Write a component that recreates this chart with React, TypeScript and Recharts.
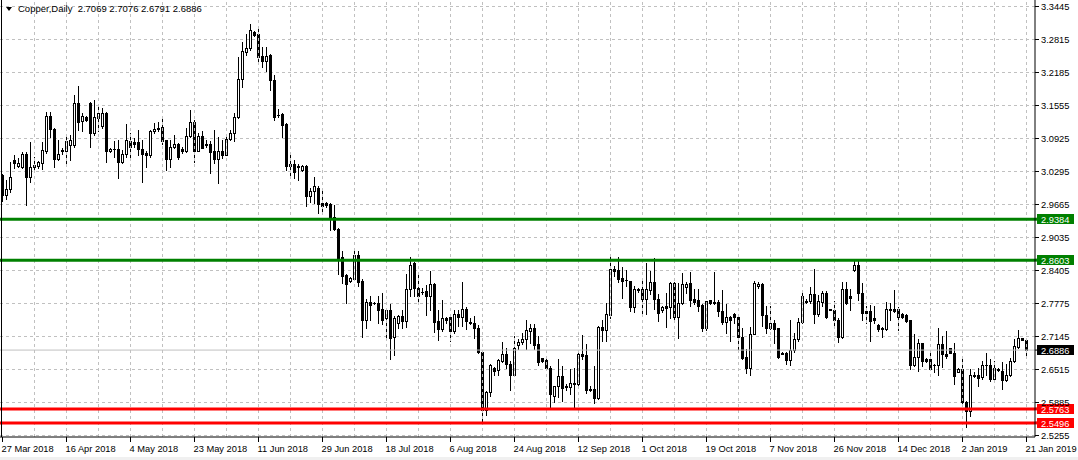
import { ComposedChart, Bar, XAxis, YAxis, CartesianGrid, ReferenceLine } from "recharts";

// daily OHLC, 27 Mar 2018 .. 21 Jan 2019 (257 bars)
const opens = [
  3.022, 2.984, 2.996, 3.051, 3.04, 3.038, 3.062, 3.019, 3.038, 3.039,
  3.044, 3.068, 3.135, 3.109, 3.052, 3.068, 3.067, 3.079, 3.08, 3.159,
  3.125, 3.132, 3.159, 3.103, 3.13, 3.115, 3.141, 3.068, 3.071, 3.072,
  3.046, 3.062, 3.086, 3.084, 3.084, 3.072, 3.063, 3.06, 3.106, 3.109,
  3.113, 3.088, 3.052, 3.075, 3.081, 3.072, 3.067, 3.096, 3.124, 3.068,
  3.096, 3.081, 3.081, 3.067, 3.052, 3.067, 3.061, 3.09, 3.102, 3.132,
  3.205, 3.257, 3.264, 3.294, 3.291, 3.249, 3.24, 3.251, 3.203, 3.137,
  3.138, 3.119, 3.043, 3.043, 3.04, 3.031, 3.04, 2.981, 2.992, 2.997,
  2.969, 2.968, 2.966, 2.941, 2.918, 2.865, 2.831, 2.82, 2.823, 2.869,
  2.82, 2.745, 2.779, 2.778, 2.777, 2.766, 2.748, 2.764, 2.712, 2.739,
  2.753, 2.744, 2.804, 2.853, 2.806, 2.799, 2.801, 2.79, 2.814, 2.744,
  2.727, 2.748, 2.75, 2.724, 2.756, 2.751, 2.767, 2.741, 2.74, 2.729,
  2.684, 2.573, 2.608, 2.654, 2.65, 2.667, 2.681, 2.662, 2.641, 2.697,
  2.703, 2.708, 2.724, 2.729, 2.699, 2.672, 2.668, 2.654, 2.6, 2.619,
  2.638, 2.62, 2.618, 2.624, 2.622, 2.68, 2.678, 2.614, 2.613, 2.597,
  2.732, 2.726, 2.754, 2.842, 2.841, 2.826, 2.822, 2.819, 2.769, 2.804,
  2.804, 2.785, 2.802, 2.818, 2.786, 2.764, 2.771, 2.769, 2.816, 2.751,
  2.778, 2.809, 2.816, 2.786, 2.783, 2.773, 2.729, 2.783, 2.779, 2.779,
  2.763, 2.741, 2.75, 2.756, 2.751, 2.713, 2.674, 2.654, 2.719, 2.81,
  2.814, 2.755, 2.729, 2.74, 2.729, 2.683, 2.683, 2.669, 2.688, 2.709,
  2.741, 2.781, 2.781, 2.794, 2.756, 2.78, 2.796, 2.766, 2.765, 2.746,
  2.713, 2.805, 2.79, 2.84, 2.851, 2.797, 2.762, 2.762, 2.748, 2.735,
  2.729, 2.728, 2.767, 2.767, 2.767, 2.756, 2.754, 2.745, 2.659, 2.675,
  2.701, 2.67, 2.67, 2.66, 2.66, 2.699, 2.681, 2.691, 2.683, 2.646,
  2.651, 2.589, 2.571, 2.641, 2.641, 2.637, 2.66, 2.659, 2.633, 2.651,
  2.648, 2.631, 2.641, 2.667, 2.694, 2.71, 2.7069,
];
const highs = [
  3.024, 3.012, 3.047, 3.06, 3.054, 3.065, 3.065, 3.085, 3.057, 3.048,
  3.084, 3.143, 3.143, 3.111, 3.089, 3.073, 3.098, 3.099, 3.175, 3.192,
  3.14, 3.134, 3.162, 3.166, 3.152, 3.15, 3.142, 3.074, 3.086, 3.089,
  3.07, 3.119, 3.103, 3.092, 3.108, 3.089, 3.067, 3.108, 3.121, 3.124,
  3.13, 3.089, 3.089, 3.098, 3.083, 3.076, 3.111, 3.146, 3.127, 3.102,
  3.105, 3.089, 3.086, 3.108, 3.095, 3.089, 3.095, 3.108, 3.14, 3.248,
  3.275, 3.292, 3.311, 3.297, 3.306, 3.267, 3.267, 3.253, 3.213, 3.147,
  3.14, 3.121, 3.063, 3.051, 3.043, 3.041, 3.041, 2.998, 3.019, 3.0,
  2.996, 2.971, 2.968, 2.965, 2.92, 2.876, 2.833, 2.828, 2.876, 2.877,
  2.823, 2.786, 2.79, 2.78, 2.79, 2.796, 2.766, 2.775, 2.752, 2.755,
  2.764, 2.833, 2.865, 2.855, 2.833, 2.806, 2.812, 2.839, 2.815, 2.765,
  2.783, 2.75, 2.753, 2.765, 2.765, 2.818, 2.769, 2.748, 2.753, 2.735,
  2.686, 2.61, 2.662, 2.655, 2.671, 2.703, 2.692, 2.667, 2.715, 2.708,
  2.721, 2.745, 2.737, 2.737, 2.715, 2.673, 2.67, 2.657, 2.62, 2.67,
  2.657, 2.622, 2.651, 2.654, 2.683, 2.716, 2.699, 2.619, 2.657, 2.734,
  2.746, 2.777, 2.868, 2.849, 2.866, 2.847, 2.84, 2.82, 2.81, 2.807,
  2.821, 2.853, 2.839, 2.864, 2.794, 2.772, 2.797, 2.818, 2.818, 2.815,
  2.834, 2.818, 2.837, 2.804, 2.804, 2.775, 2.781, 2.784, 2.837, 2.784,
  2.802, 2.775, 2.753, 2.758, 2.756, 2.73, 2.689, 2.732, 2.819, 2.818,
  2.816, 2.771, 2.771, 2.746, 2.73, 2.684, 2.684, 2.746, 2.721, 2.748,
  2.802, 2.785, 2.809, 2.843, 2.792, 2.8, 2.8, 2.767, 2.781, 2.749,
  2.818, 2.818, 2.804, 2.858, 2.858, 2.816, 2.772, 2.773, 2.772, 2.737,
  2.732, 2.779, 2.778, 2.802, 2.769, 2.758, 2.756, 2.746, 2.718, 2.708,
  2.702, 2.673, 2.686, 2.662, 2.729, 2.715, 2.724, 2.692, 2.702, 2.654,
  2.675, 2.591, 2.651, 2.645, 2.654, 2.667, 2.683, 2.67, 2.667, 2.654,
  2.665, 2.662, 2.673, 2.708, 2.726, 2.711, 2.7076,
];
const lows = [
  2.973, 2.977, 2.99, 3.035, 3.037, 3.035, 2.965, 3.009, 3.032, 3.036,
  3.033, 3.063, 3.095, 3.038, 3.051, 3.062, 3.04, 3.051, 3.076, 3.108,
  3.105, 3.125, 3.075, 3.098, 3.105, 3.112, 3.047, 3.066, 3.057, 3.016,
  3.044, 3.057, 3.054, 3.076, 3.06, 3.009, 3.038, 3.057, 3.103, 3.105,
  3.082, 3.032, 3.038, 3.073, 3.052, 3.063, 3.065, 3.095, 3.046, 3.067,
  3.073, 3.076, 3.026, 3.044, 3.006, 3.054, 3.06, 3.089, 3.086, 3.13,
  3.189, 3.251, 3.261, 3.287, 3.238, 3.229, 3.221, 3.184, 3.127, 3.133,
  3.095, 3.032, 3.019, 3.016, 3.013, 3.03, 2.963, 2.971, 2.968, 2.95,
  2.954, 2.961, 2.917, 2.917, 2.833, 2.815, 2.778, 2.818, 2.822, 2.81,
  2.713, 2.729, 2.745, 2.776, 2.74, 2.738, 2.71, 2.67, 2.678, 2.729,
  2.729, 2.731, 2.79, 2.79, 2.778, 2.795, 2.755, 2.764, 2.723, 2.706,
  2.724, 2.74, 2.705, 2.721, 2.734, 2.734, 2.727, 2.737, 2.711, 2.683,
  2.552, 2.563, 2.6, 2.641, 2.641, 2.664, 2.654, 2.611, 2.638, 2.69,
  2.699, 2.689, 2.702, 2.689, 2.659, 2.665, 2.651, 2.578, 2.589, 2.599,
  2.591, 2.612, 2.603, 2.578, 2.619, 2.67, 2.605, 2.61, 2.587, 2.595,
  2.705, 2.705, 2.749, 2.83, 2.818, 2.788, 2.81, 2.762, 2.76, 2.799,
  2.754, 2.756, 2.794, 2.767, 2.743, 2.76, 2.732, 2.748, 2.743, 2.711,
  2.775, 2.797, 2.772, 2.775, 2.762, 2.724, 2.726, 2.776, 2.776, 2.753,
  2.737, 2.72, 2.705, 2.74, 2.689, 2.67, 2.643, 2.64, 2.718, 2.807,
  2.734, 2.721, 2.727, 2.702, 2.673, 2.68, 2.662, 2.66, 2.684, 2.705,
  2.739, 2.777, 2.777, 2.74, 2.753, 2.772, 2.749, 2.764, 2.735, 2.704,
  2.711, 2.775, 2.765, 2.839, 2.784, 2.746, 2.74, 2.705, 2.739, 2.724,
  2.713, 2.726, 2.746, 2.76, 2.726, 2.749, 2.741, 2.651, 2.657, 2.648,
  2.657, 2.664, 2.65, 2.646, 2.641, 2.656, 2.672, 2.682, 2.622, 2.645,
  2.587, 2.54, 2.562, 2.636, 2.62, 2.632, 2.641, 2.629, 2.632, 2.648,
  2.614, 2.629, 2.638, 2.664, 2.692, 2.706, 2.6791,
];
const closes = [
  2.984, 2.996, 3.019, 3.045, 3.045, 3.062, 3.019, 3.038, 3.041, 3.046,
  3.07, 3.135, 3.109, 3.052, 3.062, 3.07, 3.086, 3.088, 3.159, 3.124,
  3.135, 3.127, 3.103, 3.132, 3.14, 3.141, 3.068, 3.072, 3.072, 3.046,
  3.062, 3.089, 3.076, 3.081, 3.071, 3.062, 3.06, 3.106, 3.109, 3.111,
  3.086, 3.052, 3.076, 3.081, 3.057, 3.067, 3.096, 3.124, 3.068, 3.096,
  3.074, 3.079, 3.065, 3.052, 3.067, 3.06, 3.09, 3.102, 3.132, 3.205,
  3.259, 3.265, 3.299, 3.289, 3.248, 3.24, 3.249, 3.203, 3.133, 3.136,
  3.117, 3.04, 3.04, 3.028, 3.038, 3.04, 2.981, 2.992, 3.0, 2.967,
  2.962, 2.965, 2.941, 2.918, 2.863, 2.829, 2.814, 2.826, 2.869, 2.818,
  2.745, 2.779, 2.774, 2.777, 2.764, 2.746, 2.764, 2.71, 2.748, 2.753,
  2.744, 2.804, 2.851, 2.806, 2.791, 2.798, 2.79, 2.814, 2.742, 2.727,
  2.749, 2.745, 2.724, 2.756, 2.751, 2.767, 2.743, 2.74, 2.729, 2.684,
  2.573, 2.608, 2.66, 2.648, 2.668, 2.681, 2.662, 2.641, 2.691, 2.704,
  2.708, 2.726, 2.729, 2.697, 2.664, 2.667, 2.654, 2.603, 2.619, 2.638,
  2.616, 2.618, 2.624, 2.622, 2.68, 2.676, 2.611, 2.611, 2.597, 2.732,
  2.726, 2.756, 2.843, 2.839, 2.824, 2.819, 2.821, 2.77, 2.804, 2.802,
  2.785, 2.804, 2.818, 2.785, 2.758, 2.769, 2.768, 2.816, 2.751, 2.778,
  2.813, 2.813, 2.783, 2.779, 2.772, 2.729, 2.781, 2.778, 2.778, 2.762,
  2.741, 2.751, 2.746, 2.751, 2.713, 2.673, 2.654, 2.719, 2.816, 2.814,
  2.754, 2.729, 2.74, 2.727, 2.675, 2.681, 2.669, 2.688, 2.709, 2.741,
  2.79, 2.78, 2.794, 2.756, 2.781, 2.796, 2.751, 2.765, 2.746, 2.713,
  2.804, 2.777, 2.788, 2.851, 2.796, 2.759, 2.759, 2.743, 2.746, 2.727,
  2.728, 2.767, 2.764, 2.763, 2.751, 2.751, 2.743, 2.659, 2.675, 2.701,
  2.666, 2.667, 2.651, 2.659, 2.699, 2.68, 2.676, 2.683, 2.639, 2.651,
  2.589, 2.571, 2.641, 2.639, 2.635, 2.66, 2.659, 2.633, 2.654, 2.65,
  2.631, 2.641, 2.667, 2.695, 2.711, 2.707, 2.6886,
];

// one date label every 16 bars
const dateLabels = [
  "27 Mar 2018", "16 Apr 2018", "4 May 2018", "23 May 2018", "11 Jun 2018",
  "29 Jun 2018", "18 Jul 2018", "6 Aug 2018", "24 Aug 2018", "12 Sep 2018",
  "1 Oct 2018", "19 Oct 2018", "7 Nov 2018", "26 Nov 2018", "14 Dec 2018",
  "2 Jan 2019", "21 Jan 2019",
];
const priceTicks = [
  3.3445, 3.2815, 3.2185, 3.1555, 3.0925, 3.0295, 2.9665,
  2.9035, 2.8405, 2.7775, 2.7145, 2.6515, 2.5885, 2.5255,
];
const resistanceLevels = [2.9384, 2.8603];
const supportLevels = [2.5763, 2.5496];
const lastPrice = 2.6886;

const W = 1078;
const H = 460;
const FONT = "'Liberation Sans', Arial, sans-serif";
const Y_DOMAIN = [2.52264, 3.35691];

const data = opens.map((o, i) => ({
  idx: i,
  range: [lows[i], highs[i]],
  o,
  h: highs[i],
  l: lows[i],
  c: closes[i],
}));

const Candle = (props: any) => {
  const { x, y, width, height, payload } = props;
  if (x == null || y == null) return null;
  const { o, h, l, c } = payload;
  const top0 = Math.min(y, y + height);
  const hp = Math.abs(height);
  const span = h - l;
  const py = (p: number) => Math.floor(span > 0 ? top0 + ((h - p) / span) * hp : top0);
  const cx = Math.floor(x + width / 2) + 0.5;
  const yH = py(h);
  const yL = py(l);
  const top = py(Math.max(o, c));
  const bot = py(Math.min(o, c));
  const up = c >= o;
  return (
    <g>
      <line x1={cx} x2={cx} y1={yH} y2={yL + 1} stroke="#000" strokeWidth={1} />
      {bot - top <= 1 ? (
        <rect x={cx - 1.5} y={top} width={3} height={bot - top + 1} fill="#000" />
      ) : up ? (
        <rect x={cx - 1} y={top + 0.5} width={2} height={bot - top} fill="#fff" stroke="#000" strokeWidth={1} />
      ) : (
        <rect x={cx - 1.5} y={top} width={3} height={bot - top + 1} fill="#000" />
      )}
    </g>
  );
};

const DateTick = (props: any) => {
  const { x, y, payload } = props;
  const label = payload.value % 16 === 0 ? dateLabels[payload.value / 16] : "";
  return (
    <text x={x - 1} y={y + 8} fontSize={9.3} fontFamily={FONT} fill="#000" textAnchor="start">
      {label}
    </text>
  );
};

const PriceTick = (props: any) => {
  const { x, y, payload } = props;
  return (
    <text x={x} y={y + 3.4} fontSize={9.3} fontFamily={FONT} fill="#000" textAnchor="start">
      {Number(payload.value).toFixed(4)}
    </text>
  );
};

const levelTag = (value: number, color: string) => (props: any) => {
  const vb = props.viewBox || {};
  const right = (vb.x || 0) + (vb.width || 0);
  const yc = vb.y || 0;
  return (
    <g>
      <line x1={right} x2={right + 3} y1={yc} y2={yc} stroke={color} strokeWidth={value === lastPrice ? 1 : 3} />
      <rect x={right + 2} y={Math.round(yc) - 5} width={37} height={10} fill={color} />
      <text x={right + 6} y={Math.round(yc) + 3.5} fontSize={9.3} fontFamily={FONT} fill="#fff">
        {value.toFixed(4)}
      </text>
    </g>
  );
};

const gridBars = data.filter((d) => d.idx > 0 && d.idx % 8 === 0).map((d) => d.idx);
const last = opens.length - 1;

export default function App() {
  return (
    <div style={{ position: "absolute", left: 0, top: 0, width: W, height: H, background: "#fff" }}>
      <ComposedChart width={W} height={H} data={data} margin={{ top: 0, right: 0, bottom: 0, left: 0 }}>
        <CartesianGrid vertical={false} stroke="#c0c0c0" strokeDasharray="3 3" syncWithTicks />
        {gridBars.map((b) => (
          <ReferenceLine key={"g" + b} x={b} stroke="#c0c0c0" strokeDasharray="3 3" />
        ))}
        <XAxis
          dataKey="idx"
          type="category"
          interval={15}
          height={23}
          padding={{ left: 0.5, right: 6.5 }}
          axisLine={{ stroke: "#000" }}
          tickLine={{ stroke: "#000" }}
          tickSize={5}
          tick={<DateTick />}
        />
        <YAxis
          orientation="right"
          width={43}
          type="number"
          domain={Y_DOMAIN}
          allowDataOverflow
          ticks={priceTicks}
          interval={0}
          axisLine={{ stroke: "#000" }}
          tickLine={{ stroke: "#000" }}
          tickSize={4}
          tick={<PriceTick />}
        />
        <ReferenceLine y={lastPrice} stroke="#c0c0c0" label={levelTag(lastPrice, "#000")} />
        <Bar dataKey="range" barSize={4} isAnimationActive={false} shape={(p: any) => <Candle {...p} />} />
        {resistanceLevels.map((v) => (
          <ReferenceLine key={"r" + v} y={v} stroke="#008000" strokeWidth={3} label={levelTag(v, "#008000")} />
        ))}
        {supportLevels.map((v) => (
          <ReferenceLine key={"s" + v} y={v} stroke="#ff0000" strokeWidth={3} label={levelTag(v, "#ff0000")} />
        ))}
      </ComposedChart>
      <div style={{ position: "absolute", left: 1, top: 0, width: 1, height: 437, background: "#000" }} />
      <div style={{ position: "absolute", left: 0, top: 457, width: W, height: 3, background: "#f0f0f0" }} />
      <div
        style={{
          position: "absolute",
          left: 6,
          top: 3,
          fontFamily: FONT,
          fontSize: 9.5,
          color: "#000",
          whiteSpace: "pre",
          lineHeight: "11px",
          display: "flex",
          alignItems: "center",
        }}
      >
        <span
          style={{
            display: "inline-block",
            width: 0,
            height: 0,
            borderLeft: "3px solid transparent",
            borderRight: "3px solid transparent",
            borderTop: "4px solid #000",
            marginRight: 6,
          }}
        />
        <span>
          {"Copper,Daily  " +
            [opens[last], highs[last], lows[last], closes[last]].map((v) => v.toFixed(4)).join(" ")}
        </span>
      </div>
    </div>
  );
}
